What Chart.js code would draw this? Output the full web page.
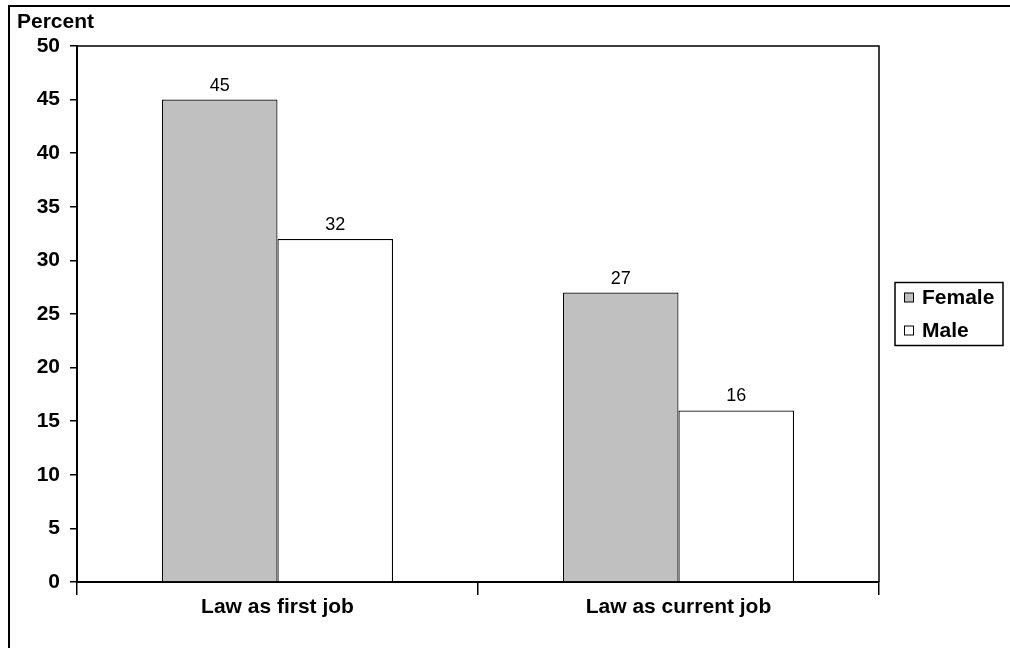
<!DOCTYPE html>
<html>
<head>
<meta charset="utf-8">
<script src="https://cdn.jsdelivr.net/npm/chart.js@4/dist/chart.umd.min.js"></script>
<style>
  html, body { margin: 0; padding: 0; background: #ffffff; }
  canvas { display: block; }
</style>
</head>
<body>
<canvas id="chart" width="1010" height="648"></canvas>
<script>
const categories = ['Law as first job', 'Law as current job'];
const femaleValues = [45, 27];
const maleValues = [32, 16];
const yTicks = [0, 5, 10, 15, 20, 25, 30, 35, 40, 45, 50];
const seriesNames = ['Female', 'Male'];

const FONT = 'Arial, "Liberation Sans", sans-serif';

// Page frame and the closed plot rectangle
const frame = {
  id: 'frame',
  afterDraw(chart) {
    const ctx = chart.ctx;
    const a = chart.chartArea;
    ctx.save();
    ctx.strokeStyle = '#000000';
    ctx.lineWidth = 2;
    ctx.beginPath();
    ctx.moveTo(9, 648);
    ctx.lineTo(9, 6);
    ctx.lineTo(1010, 6);
    ctx.stroke();
    ctx.lineWidth = 1.5;
    ctx.beginPath();
    ctx.moveTo(a.left, a.top);
    ctx.lineTo(a.right, a.top);
    ctx.lineTo(a.right, a.bottom);
    ctx.stroke();
    ctx.restore();
  }
};

// Value labels above each bar
const valueLabels = {
  id: 'valueLabels',
  afterDatasetsDraw(chart) {
    const ctx = chart.ctx;
    ctx.save();
    ctx.font = '18px ' + FONT;
    ctx.fillStyle = '#000000';
    ctx.textAlign = 'center';
    ctx.textBaseline = 'alphabetic';
    chart.data.datasets.forEach((ds, i) => {
      chart.getDatasetMeta(i).data.forEach((bar, j) => {
        ctx.fillText(String(ds.data[j]), bar.x, bar.y - 9);
      });
    });
    ctx.restore();
  }
};

// Boxed legend to the right of the plot
const boxLegend = {
  id: 'boxLegend',
  afterDraw(chart) {
    const ctx = chart.ctx;
    const a = chart.chartArea;
    const cy = (a.top + a.bottom) / 2;
    const x0 = 895, w = 108, h = 63;
    const y0 = cy - h / 2;
    ctx.save();
    ctx.strokeStyle = '#000000';
    ctx.lineWidth = 1.5;
    ctx.strokeRect(x0, y0, w, h);
    ctx.font = 'bold 21px ' + FONT;
    ctx.textBaseline = 'middle';
    ctx.textAlign = 'left';
    chart.data.datasets.forEach((ds, i) => {
      const yc = y0 + 15 + i * 33;
      ctx.fillStyle = ds.backgroundColor;
      ctx.fillRect(904.5, yc - 4.5, 9, 9);
      ctx.lineWidth = 1;
      ctx.strokeStyle = '#000000';
      ctx.strokeRect(904.5, yc - 4.5, 9, 9);
      ctx.fillStyle = '#000000';
      ctx.fillText(ds.label, 922, yc + 1);
    });
    ctx.restore();
  }
};

new Chart(document.getElementById('chart'), {
  type: 'bar',
  data: {
    labels: categories,
    datasets: [
      {
        label: seriesNames[0],
        data: femaleValues,
        backgroundColor: '#c0c0c0',
        borderColor: '#000000',
        borderWidth: 1.2,
        borderSkipped: 'bottom'
      },
      {
        label: seriesNames[1],
        data: maleValues,
        backgroundColor: '#ffffff',
        borderColor: '#000000',
        borderWidth: 1.2,
        borderSkipped: 'bottom'
      }
    ]
  },
  options: {
    responsive: false,
    devicePixelRatio: 1,
    animation: false,
    datasets: { bar: { categoryPercentage: 0.576, barPercentage: 1 } },
    layout: { padding: { left: 17, right: 131, top: 0, bottom: 0 } },
    plugins: {
      legend: { display: false },
      tooltip: { enabled: false },
      title: {
        display: true,
        text: 'Percent',
        align: 'start',
        color: '#000000',
        font: { family: FONT, size: 21, weight: 'bold', lineHeight: 1.2 },
        padding: { top: 9.4, bottom: 11.4 }
      }
    },
    scales: {
      x: {
        grid: {
          display: true,
          offset: true,
          drawOnChartArea: false,
          drawTicks: true,
          tickLength: 13,
          color: '#000000',
          lineWidth: 1.5
        },
        border: { display: true, color: '#000000', width: 2 },
        ticks: {
          color: '#000000',
          font: { family: FONT, size: 21, weight: 'bold' },
          padding: 0,
          maxRotation: 0
        },
        afterFit(scale) { scale.height = 66; }
      },
      y: {
        min: 0,
        max: 50,
        afterBuildTicks(scale) { scale.ticks = yTicks.map(v => ({ value: v })); },
        grid: {
          display: true,
          drawOnChartArea: false,
          drawTicks: true,
          tickLength: 7,
          color: '#000000',
          lineWidth: 1.5
        },
        border: { display: true, color: '#000000', width: 2 },
        ticks: {
          color: '#000000',
          font: { family: FONT, size: 21, weight: 'bold' },
          padding: 10
        },
        afterFit(scale) { scale.width = 60; }
      }
    }
  },
  plugins: [valueLabels, frame, boxLegend]
});
</script>
</body>
</html>
